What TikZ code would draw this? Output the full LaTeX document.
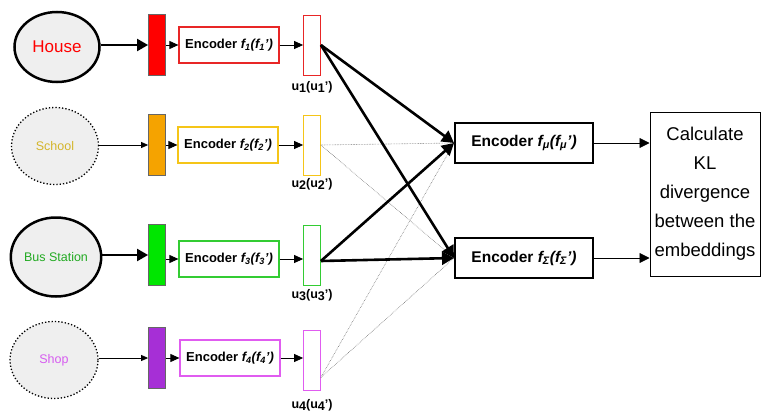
\documentclass[tikz,border=0pt]{standalone}
\usepackage{fontspec}
\setmainfont{Liberation Sans}
\usetikzlibrary{arrows.meta,shapes.geometric}
\definecolor{rowred}{HTML}{FF0000}
\definecolor{rowredline}{HTML}{E82626}
\definecolor{roworange}{HTML}{F5A300}
\definecolor{rowgold}{HTML}{F5C518}
\definecolor{rowgoldtext}{HTML}{D4B52A}
\definecolor{rowgreen}{HTML}{00E600}
\definecolor{rowgreenline}{HTML}{33CC33}
\definecolor{rowgreentext}{HTML}{22AA22}
\definecolor{rowpurple}{HTML}{A62FD6}
\definecolor{rowpink}{HTML}{E05CF0}
\definecolor{rowpinktext}{HTML}{D65CF0}
\definecolor{placefill}{HTML}{EFEFEF}

\begin{document}
\begin{tikzpicture}[x=1pt,y=-1pt,
	place/.style={ellipse,fill=placefill,inner sep=0pt,minimum width=86pt,minimum height=76pt},
	strong/.style={draw,line width=2.5pt},
	weak/.style={draw,dotted,line width=1.3pt},
	embbar/.style={draw=black!60,line width=0.8pt,minimum width=17pt,minimum height=61pt,inner sep=0pt},
	encbox/.style={draw,line width=1.2pt,minimum width=100pt,minimum height=36pt,inner sep=0pt,font=\fontsize{13}{15}\selectfont\bfseries},
	ubar/.style={draw,line width=0.8pt,fill=white,minimum width=17pt,minimum height=60pt,inner sep=0pt},
	ulabel/.style={font=\fontsize{12.5}{14}\selectfont\bfseries,inner sep=0pt},
	bigbox/.style={draw,line width=2pt,minimum width=138pt,minimum height=40pt,inner sep=0pt,font=\fontsize{15.5}{18}\selectfont\bfseries},
	thickarrow/.style={line width=2pt,-{Triangle[length=11pt,width=12pt]}},
	thinarrow/.style={line width=0.8pt,-{Triangle[length=7pt,width=6pt]}},
	smallarrow/.style={line width=0.8pt,-{Triangle[length=9pt,width=8pt]}},
	linkstrong/.style={line width=2.6pt,-{Triangle[length=12pt,width=13pt]}},
	linkweak/.style={densely dotted,line width=0.6pt,draw=black!55}]
	\useasboundingbox (0,0) rectangle (761,415);

	% inputs
	\node[place,strong,minimum width=85pt,minimum height=70pt,text=rowred,font=\fontsize{17}{20}\selectfont] (house) at (57,47) {House};
	\node[place,weak,minimum width=87pt,minimum height=77pt,text=rowgoldtext,font=\fontsize{12.5}{15}\selectfont] (school) at (55,146) {School};
	\node[place,strong,minimum width=86pt,minimum height=79pt,text=rowgreentext,font=\fontsize{12.5}{15}\selectfont] (bus) at (56,257) {Bus Station};
	\node[place,weak,minimum width=88pt,minimum height=77pt,text=rowpinktext,font=\fontsize{12.5}{15}\selectfont] (shop) at (54,360) {Shop};

	% embedding bars
	\node[embbar,fill=rowred] (emb1) at (157,45) {};
	\node[embbar,fill=roworange] (emb2) at (157,145) {};
	\node[embbar,fill=rowgreen] (emb3) at (157,255) {};
	\node[embbar,fill=rowpurple] (emb4) at (157,358) {};

	% encoders
	\node[encbox,draw=rowredline] (enc1) at (229,45) {Encoder \textit{f\textsubscript{1}(f\textsubscript{1}')}};
	\node[encbox,draw=rowgold] (enc2) at (228,145) {Encoder \textit{f\textsubscript{2}(f\textsubscript{2}')}};
	\node[encbox,draw=rowgreenline] (enc3) at (229,259) {Encoder \textit{f\textsubscript{3}(f\textsubscript{3}')}};
	\node[encbox,draw=rowpink] (enc4) at (230,358) {Encoder \textit{f\textsubscript{4}(f\textsubscript{4}')}};

	% outputs
	\node[ubar,draw=rowredline] (u1) at (312,45) {};
	\node[ubar,draw=rowgold] (u2) at (312,145) {};
	\node[ubar,draw=rowgreenline] (u3) at (312,255) {};
	\node[ubar,draw=rowpink] (u4) at (312,360) {};
	\node[ulabel] (lu1) at (312,87) {u\raisebox{-2pt}{1}(u\raisebox{-2pt}{1}')};
	\node[ulabel] (lu2) at (312,184) {u\raisebox{-2pt}{2}(u\raisebox{-2pt}{2}')};
	\node[ulabel] (lu3) at (312,295) {u\raisebox{-2pt}{3}(u\raisebox{-2pt}{3}')};
	\node[ulabel] (lu4) at (312,405) {u\raisebox{-2pt}{4}(u\raisebox{-2pt}{4}')};

	% second stage
	\node[bigbox] (encmu) at (524,143) {Encoder \textit{f\textsubscript{μ}(f\textsubscript{μ}')}};
	\node[bigbox] (encsigma) at (524,258) {Encoder \textit{f\textsubscript{Σ}(f\textsubscript{Σ}')}};
	\node[draw,line width=1pt,minimum width=110pt,minimum height=164pt,inner sep=0pt,align=center,font=\fontsize{18.5}{29}\selectfont] (kl) at (705,194) {Calculate\\KL\\divergence\\between the\\embeddings};

	% rows
	\draw[thickarrow] (house.east |- emb1) -- (emb1.west);
	\draw[thinarrow] (school.east |- emb2) -- (emb2.west);
	\draw[thickarrow] (bus.east |- emb3) -- (emb3.west);
	\draw[thinarrow] (shop.east |- emb4) -- (emb4.west);
	\draw[smallarrow] (emb1.east) -- (enc1.west);
	\draw[smallarrow] (emb2.east) -- (enc2.west);
	\draw[smallarrow] (emb3.east |- enc3) -- (enc3.west);
	\draw[smallarrow] (emb4.east) -- (enc4.west);
	\draw[smallarrow] (enc1.east) -- (u1.west);
	\draw[smallarrow] (enc2.east) -- (u2.west);
	\draw[smallarrow] (enc3.east) -- (u3.west |- enc3);
	\draw[smallarrow] (enc4.east) -- (u4.west |- enc4);

	% links to the second stage
	\draw[linkweak] (u2.east) -- (encmu.west);
	\draw[linkweak] (u2.east) -- (encsigma.west);
	\draw[linkweak] ([yshift=13pt]u4.south east) -- (encmu.west);
	\draw[linkweak] ([yshift=13pt]u4.south east) -- (encsigma.west);
	\draw[linkstrong] (u1.east) -- (encmu.west);
	\draw[linkstrong] (u1.east) -- (encsigma.west);
	\draw[linkstrong] ([yshift=-6pt]u3.east) -- (encmu.west);
	\draw[linkstrong] ([yshift=-6pt]u3.east) -- (encsigma.west);

	\draw[thinarrow,-{Triangle[length=10pt,width=10pt]}] (encmu.east) -- (kl.west |- encmu);
	\draw[thinarrow,-{Triangle[length=10pt,width=10pt]}] (encsigma.east) -- (kl.west |- encsigma);
\end{tikzpicture}
\end{document}
